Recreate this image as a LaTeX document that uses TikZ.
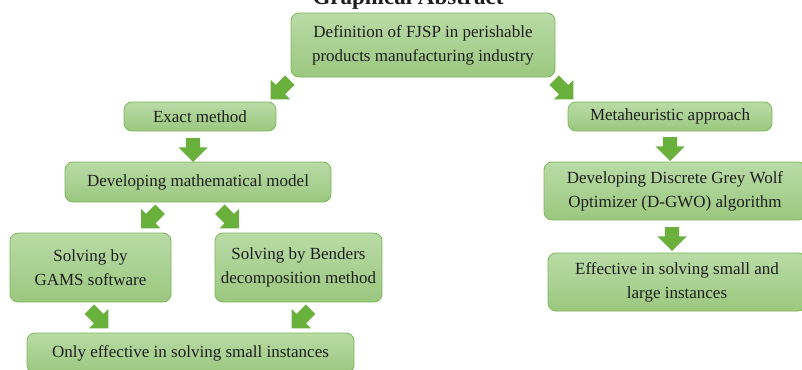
\documentclass[tikz,border=0pt]{standalone}
\usepackage{fontspec}
\setmainfont{Liberation Serif}
\usetikzlibrary{shapes.arrows,calc}
\definecolor{boxtop}{HTML}{B9DBA6}
\definecolor{boxbot}{HTML}{9BC77F}
\definecolor{boxline}{HTML}{7DB65A}
\definecolor{arrowgreen}{HTML}{6AB03D}
\definecolor{txt}{HTML}{1E1E1E}

\begin{document}
\begin{tikzpicture}[x=1pt,y=-1pt,
  box/.style={draw=boxline,line width=0.8pt,rounded corners=8pt,top color=boxtop,bottom color=boxbot,
    align=center,text=txt,font=\fontsize{17}{24}\selectfont,inner sep=0pt},
  blockarrow/.style={single arrow,draw=none,fill=arrowgreen,inner xsep=0pt,inner ysep=7pt,
    minimum height=24pt,single arrow head extend=7.5pt},
  diagarrow/.style={blockarrow,inner ysep=6.5pt,minimum height=27pt,single arrow head extend=7pt}]
\useasboundingbox (0,0) rectangle (802,369);

\node[font=\bfseries\fontsize{23}{23}\selectfont,anchor=base,text=txt] (title) at (408,5) {Graphical Abstract};

\node[box,minimum width=264pt,minimum height=64pt] (def) at (423,45) {Definition of FJSP in perishable\\products manufacturing industry};
\node[box,minimum width=152pt,minimum height=29pt] (exact) at (200,116.5) {Exact method};
\node[box,minimum width=266pt,minimum height=40pt] (model) at (198,182) {Developing mathematical model};
\node[box,minimum width=161pt,minimum height=69pt] (gams) at (90.5,267.5) {Solving by\\GAMS software};
\node[box,minimum width=167pt,minimum height=69pt] (benders) at (298.5,267.5) {Solving by Benders\\decomposition method};
\node[box,minimum width=327pt,minimum height=40pt] (only) at (190.5,353) {Only effective in solving small instances};

\node[box,minimum width=204pt,minimum height=29pt] (meta) at (670,116.5) {Metaheuristic approach};
\node[box,minimum width=262pt,minimum height=58pt] (dgwo) at (675,191) {Developing Discrete Grey Wolf\\Optimizer (D-GWO) algorithm};
\node[box,minimum width=258pt,minimum height=58pt] (eff) at (677,282) {Effective in solving small and\\large instances};

% block arrows
\node[diagarrow,rotate=-135] (a1) at ($(def.south west)+(-8,10)$) {};
\node[diagarrow,rotate=-45] (a2) at ($(def.south east)+(6,10)$) {};
\node[blockarrow,rotate=-90] (a3) at ($(exact.south)+(-7,15)$) {};
\node[diagarrow,rotate=-135] (a4) at ($(model.south)+(-45,14)$) {};
\node[diagarrow,rotate=-45] (a5) at ($(model.south)+(29,14)$) {};
\node[diagarrow,rotate=-45] (a6) at ($(gams.south)+(6,14)$) {};
\node[diagarrow,rotate=-135] (a7) at ($(benders.south)+(5,14)$) {};
\node[blockarrow,rotate=-90] (a8) at ($(meta.south)+(0,14)$) {};
\node[blockarrow,rotate=-90] (a9) at ($(dgwo.south)+(-3,15)$) {};
\end{tikzpicture}
\end{document}
